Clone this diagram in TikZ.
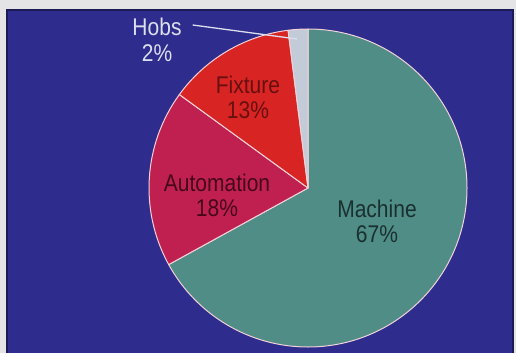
\documentclass[tikz,border=0pt]{standalone}
\usepackage{fontspec}
\setmainfont{Liberation Sans}
\usepackage{graphicx}
\definecolor{pagegray}{HTML}{E4E4E6}
\definecolor{bgblue}{HTML}{2E2C8C}
\definecolor{edgedark}{HTML}{1C1B55}
\definecolor{machinec}{HTML}{508D87}
\definecolor{autoc}{HTML}{C0204F}
\definecolor{fixc}{HTML}{D92424}
\definecolor{hobsc}{HTML}{C3CBD8}
\definecolor{slicestroke}{HTML}{F2D2D8}
\definecolor{machtext}{HTML}{1A302E}
\definecolor{autotext}{HTML}{440819}
\definecolor{fixtext}{HTML}{661010}
\definecolor{hobstext}{HTML}{DCDFEE}
\newcommand\vst[1]{\scalebox{1}[1.15]{#1}}
\begin{document}
\begin{tikzpicture}[x=1pt,y=-1pt,
  lbl/.style={font=\fontsize{21}{25}\selectfont, align=center, inner sep=0pt},
  slice/.style={draw=slicestroke, line width=1pt, line join=round}]
\useasboundingbox (0,0) rectangle (516,353);
\fill[pagegray] (0,0) rectangle (516,353);
\fill[bgblue] (7,10) rectangle (513,353);
\draw[edgedark, line width=1.2pt] (7,353) -- (7,10) -- (513,10) -- (513,353);
\begin{scope}[shift={(308,188)}, y=1pt]
  \filldraw[slice, fill=machinec] (0,0) -- (90:159) arc[start angle=90, end angle=-151.2, radius=159] -- cycle;
  \filldraw[slice, fill=autoc] (0,0) -- (208.8:159) arc[start angle=208.8, end angle=144, radius=159] -- cycle;
  \filldraw[slice, fill=fixc] (0,0) -- (144:159) arc[start angle=144, end angle=97.2, radius=159] -- cycle;
  \filldraw[slice, fill=hobsc] (0,0) -- (97.2:159) arc[start angle=97.2, end angle=90, radius=159] -- cycle;
\end{scope}
\node[lbl, text=machtext] (machine) at (377,221) {\vst{Machine}\\\vst{67\%}};
\node[lbl, text=autotext] (automation) at (217,195) {\vst{Automation}\\\vst{18\%}};
\node[lbl, text=fixtext] (fixture) at (248,97) {\vst{Fixture}\\\vst{13\%}};
\node[lbl, text=hobstext] (hobsname) at (157,27) {\vst{Hobs}};
\node[lbl, text=hobstext] (hobspct) at (157,53) {\vst{2\%}};
\coordinate (hobstip) at (297,39);
\draw[hobstext, line width=1.3pt] ([xshift=11pt,yshift=2pt]hobsname.east) -- (hobstip);
\end{tikzpicture}
\end{document}
